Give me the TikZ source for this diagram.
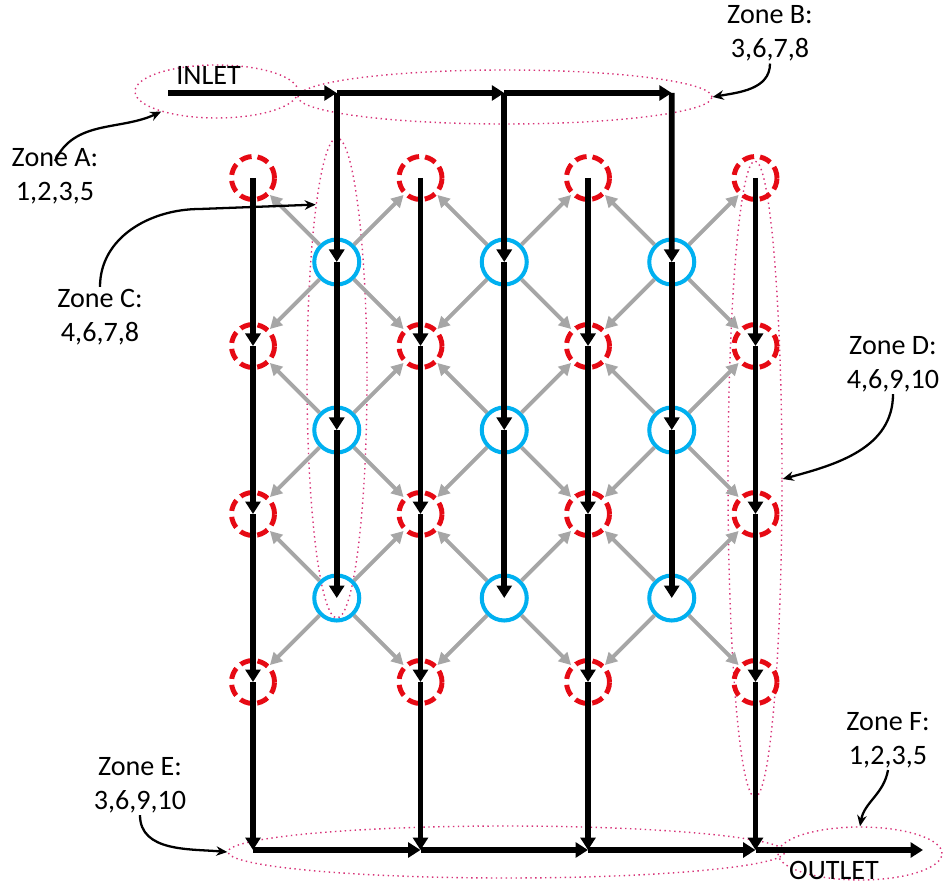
\documentclass[tikz,border=0pt]{standalone}
\usepackage{fontspec}
\setmainfont{Carlito}
\usetikzlibrary{arrows.meta,shapes.geometric,positioning}
\definecolor{wellred}{RGB}{230,10,20}
\definecolor{injblue}{RGB}{0,176,240}
\definecolor{leakgray}{RGB}{166,166,166}
\definecolor{zonepink}{RGB}{215,50,120}

\begin{document}
\begin{tikzpicture}[
  font=\fontsize{16}{19.5}\selectfont,
  % ── well styles ──────────────────────────────────────────
  prod/.style={
    circle, draw=wellred, line width=2.8pt,
    dash pattern=on 6.6pt off 3.4pt,
    minimum size=0.86cm, inner sep=0pt
  },
  inj/.style={
    circle, draw=injblue, line width=2.3pt,
    minimum size=0.9cm, inner sep=0pt
  },
  % ── link styles ──────────────────────────────────────────
  flow/.style={line width=3.2pt,
    -{Triangle[length=0.25cm,width=0.3cm]}},
  leak/.style={line width=2.2pt, draw=leakgray,
    -{Triangle[length=0.24cm,width=0.25cm,fill=leakgray]}},
  % ── zones and labels ─────────────────────────────────────
  zonering/.style={ellipse, draw=zonepink, dotted,
    line width=0.8pt, inner sep=0pt},
  callout/.style={line width=1.3pt,
    -{Stealth[length=0.22cm,width=0.19cm]}},
  lbl/.style={align=center, inner sep=1pt},
]
\useasboundingbox (0,0) rectangle (18.86,-17.68);

%% ── ZONE RINGS ───────────────────────────────────────────────
\node[zonering, minimum width=3.26cm, minimum height=1.06cm]
  (ZA) at (4.33,-1.83) {};
\node[zonering, minimum width=8.28cm, minimum height=1.08cm]
  (ZB) at (10.1,-1.94) {};
\node[zonering, minimum width=1.2cm, minimum height=9.6cm]
  (ZC) at (6.74,-7.56) {};
\node[zonering, minimum width=1.08cm, minimum height=12.72cm]
  (ZD) at (15.1,-9.58) {};
\node[zonering, minimum width=11.14cm, minimum height=1.04cm]
  (ZE) at (10.13,-17.04) {};
\node[zonering, minimum width=3.28cm, minimum height=1.06cm]
  (ZF) at (17.2,-17.07) {};

%% ── PRODUCERS (red dashed) ───────────────────────────────────
\foreach \i in {0,...,3}{
  \foreach \j in {0,...,3}{
    \node[prod] (P\i\j) at (5.06+3.35*\i, -3.56-3.36*\j) {};}}

%% ── INJECTORS (blue) ─────────────────────────────────────────
\foreach \i in {0,1,2}{
  \foreach \j in {0,1,2}{
    \node[inj] (I\i\j) at (6.735+3.35*\i, -5.24-3.36*\j) {};}}

%% ── CROSS FLOW (grey) ────────────────────────────────────────
\foreach \i [evaluate=\i as \ii using int(\i+1)] in {0,1,2}{
  \foreach \j [evaluate=\j as \jj using int(\j+1)] in {0,1,2}{
    \draw[leak] (I\i\j) -- (P\i\j);
    \draw[leak] (I\i\j) -- (P\ii\j);
    \draw[leak] (I\i\j) -- (P\i\jj);
    \draw[leak] (I\i\j) -- (P\ii\jj);}}

%% ── HEADERS ──────────────────────────────────────────────────
\coordinate (IN)  at (3.36,-1.86);
\coordinate (T0)  at (6.735,-1.86);
\coordinate (T1)  at (10.085,-1.86);
\coordinate (T2)  at (13.435,-1.86);
\foreach \i in {0,...,3}{
  \coordinate (B\i) at (5.06+3.35*\i,-17.0);}
\coordinate (OUT) at (18.46,-17.0);

\draw[flow] (IN)--(T0);
\draw[flow] (T0)--(T1);
\draw[flow] (T1)--(T2);
\draw[flow] (B0)--(B1);
\draw[flow] (B1)--(B2);
\draw[flow] (B2)--(B3);
\draw[flow] (B3)--(OUT);

%% ── MAIN FLOW (black) ────────────────────────────────────────
\foreach \i in {0,1,2}{
  \draw[flow] (T\i)--(I\i0.center);
  \draw[flow] (I\i0.center)--(I\i1.center);
  \draw[flow] (I\i1.center)--(I\i2.center);}
\foreach \i in {0,...,3}{
  \draw[flow] (P\i0.center)--(P\i1.center);
  \draw[flow] (P\i1.center)--(P\i2.center);
  \draw[flow] (P\i2.center)--(P\i3.center);
  \draw[flow] (P\i3.center)--(B\i);}

%% ── TEXT ─────────────────────────────────────────────────────
\node[lbl] (INL) at (4.17,-1.5)   {INLET};
\node[lbl] (OUTL) at (16.68,-17.4) {OUTLET};
\node[lbl] (LA) at (1.1,-3.52)   {Zone A:\\1,2,3,5};
\node[lbl] (LB) at (15.4,-0.67)  {Zone B:\\3,6,7,8};
\node[lbl] (LC) at (2.0,-6.34)   {Zone C:\\4,6,7,8};
\node[lbl] (LD) at (17.86,-7.28) {Zone D:\\4,6,9,10};
\node[lbl] (LE) at (2.8,-15.7)   {Zone E:\\3,6,9,10};
\node[lbl] (LF) at (17.76,-14.8) {Zone F:\\1,2,3,5};

%% ── CALLOUTS ─────────────────────────────────────────────────
\coordinate (CK) at (4.0,-4.18);
\draw[callout] ([yshift=-0.3cm]LA.north) to[out=65,in=205] (ZA.200);
\draw[callout] (LB.south) to[out=-90,in=10] (ZB.east);
\draw[callout] (LC.north) to[out=90,in=180] (CK) -- (ZC.97);
\draw[callout] (LD.south) to[out=-90,in=15] (ZD.east);
\draw[callout] (LE.south) to[out=-90,in=175] (ZE.west);
\draw[callout] (LF.south) to[out=-100,in=80] (ZF.north);

\end{tikzpicture}
\end{document}
